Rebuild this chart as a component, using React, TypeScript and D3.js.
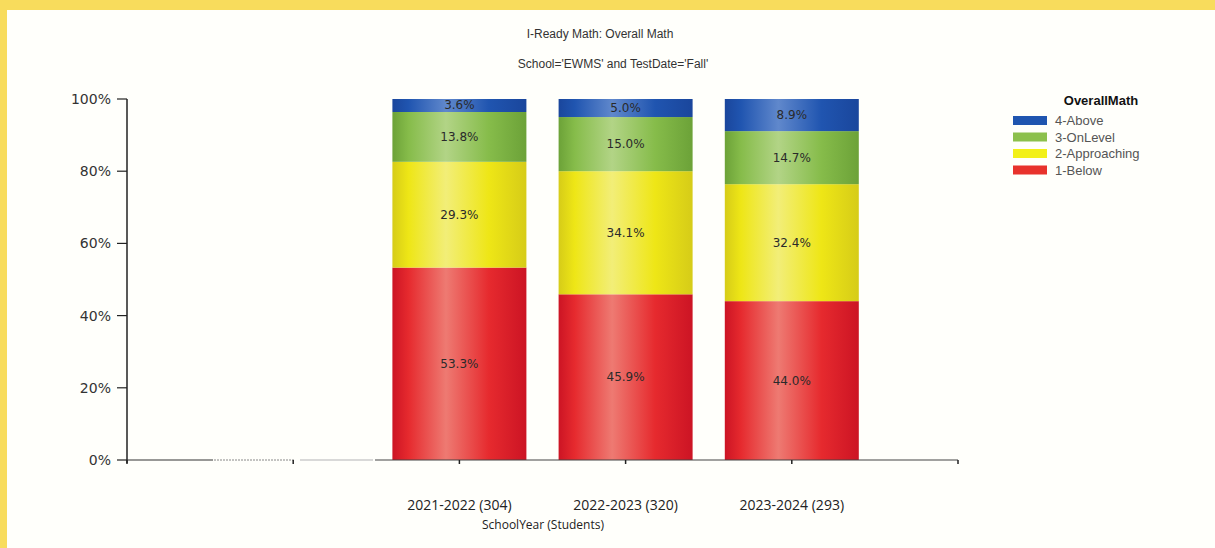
import React from "react";
import * as d3 from "d3";

const categories = ["", " ", "2021-2022 (304)", "2022-2023 (320)", "2023-2024 (293)", "  "];
const barCategories = ["2021-2022 (304)", "2022-2023 (320)", "2023-2024 (293)"];
const seriesNames = ["1-Below", "2-Approaching", "3-OnLevel", "4-Above"];
const below = [53.3, 45.9, 44.0];
const approaching = [29.3, 34.1, 32.4];
const onLevel = [13.8, 15.0, 14.7];
const above = [3.6, 5.0, 8.9];
const yTicks = [0, 20, 40, 60, 80, 100];
const legendOrder = ["4-Above", "3-OnLevel", "2-Approaching", "1-Below"];

const colors: Record<string, { base: string; edge: string; hi: string }> = {
  "1-Below": { base: "#e62a2e", edge: "#cc1424", hi: "#ee7a72" },
  "2-Approaching": { base: "#eee616", edge: "#d6cc18", hi: "#f2ee78" },
  "3-OnLevel": { base: "#86bc4a", edge: "#6ca238", hi: "#b2d486" },
  "4-Above": { base: "#2055b0", edge: "#1a469c", hi: "#6088cc" },
};
const swatch: Record<string, string> = {
  "1-Below": "#e8322c",
  "2-Approaching": "#f2f018",
  "3-OnLevel": "#8cc04c",
  "4-Above": "#1f55b0",
};

export default function App() {
  const W = 1215, H = 548;
  const x0 = 127, x1 = 958, yTop = 99, yBot = 460;
  const x = d3.scalePoint<string>().domain(categories).range([x0, x1]).padding(0);
  const y = d3.scaleLinear().domain([0, 100]).range([yBot, yTop]);
  const barW = 134;
  const data = barCategories.map((c, i) => ({
    cat: c,
    "1-Below": below[i],
    "2-Approaching": approaching[i],
    "3-OnLevel": onLevel[i],
    "4-Above": above[i],
  }));
  const stacked = d3.stack<any>().keys(seriesNames)(data);
  const font = "'Liberation Sans', Arial, sans-serif";

  return (
    <svg width={W} height={H} style={{ position: "fixed", left: 0, top: 0 }} fontFamily={font}>
      <defs>
        {seriesNames.map((s) => (
          <linearGradient key={s} id={"g" + s.replace(/\W/g, "")} x1="0" x2="1" y1="0" y2="0">
            <stop offset="0%" stopColor={colors[s].edge} />
            <stop offset="12%" stopColor={colors[s].base} />
            <stop offset="40%" stopColor={colors[s].hi} />
            <stop offset="72%" stopColor={colors[s].base} />
            <stop offset="100%" stopColor={colors[s].edge} />
          </linearGradient>
        ))}
      </defs>
      <rect x={0} y={0} width={W} height={H} fill="#f8dc5c" />
      <rect x={7} y={10} width={W - 7} height={H - 10} fill="#fffffb" />
      <text x={600} y={38} textAnchor="middle" fontSize={12} fill="#333">I-Ready Math: Overall Math</text>
      <text x={613} y={68} textAnchor="middle" fontSize={12} fill="#333">School='EWMS' and TestDate='Fall'</text>

      {/* bars */}
      {stacked.map((layer) =>
        layer.map((d, i) => {
          const cx = x(barCategories[i])!;
          const top = y(d[1]);
          const bot = y(d[0]);
          const v = d[1] - d[0];
          return (
            <g key={layer.key + i}>
              <rect x={cx - barW / 2} y={top} width={barW} height={bot - top} fill={`url(#g${String(layer.key).replace(/\W/g, "")})`} />
              <text x={cx} y={(top + bot) / 2 + 4} textAnchor="middle" fontSize={12} fill="#2a2a2a" fontFamily="'DejaVu Sans', sans-serif">{v.toFixed(1)}%</text>
            </g>
          );
        })
      )}

      {/* y axis */}
      <line x1={x0} x2={x0} y1={yTop} y2={yBot + 3} stroke="#222" strokeWidth={1.5} />
      {yTicks.map((t) => (
        <g key={t}>
          <line x1={x0 - 10} x2={x0} y1={y(t)} y2={y(t)} stroke="#222" strokeWidth={1.2} />
          <text x={x0 - 16} y={y(t) + 5} textAnchor="end" fontSize={14} fill="#333" fontFamily="'DejaVu Sans', sans-serif">{t}%</text>
        </g>
      ))}

      {/* x axis baseline */}
      <line x1={x0} x2={213} y1={yBot} y2={yBot} stroke="#333" strokeWidth={1.2} />
      <line x1={214} x2={295} y1={yBot} y2={yBot} stroke="#888" strokeWidth={1} strokeDasharray="2,1" />
      <line x1={300} x2={373} y1={yBot} y2={yBot} stroke="#ccc" strokeWidth={1.5} />
      <line x1={375} x2={x1} y1={yBot} y2={yBot} stroke="#444" strokeWidth={1.2} />
      {categories.map((c, i) => (
        <line key={i} x1={x(c)!} x2={x(c)!} y1={yBot} y2={yBot + 4} stroke="#222" strokeWidth={1.5} />
      ))}
      {barCategories.map((c) => (
        <text key={c} x={x(c)!} y={510} textAnchor="middle" fontSize={14} fill="#222" fontFamily="'Open Sans', sans-serif">{c}</text>
      ))}
      <text x={543} y={529} textAnchor="middle" fontSize={12} fill="#222" fontFamily="'Open Sans', sans-serif">SchoolYear (Students)</text>

      {/* legend */}
      <text x={1101} y={105} textAnchor="middle" fontSize={13} fontWeight="bold" fill="#111">OverallMath</text>
      {legendOrder.map((s, i) => (
        <g key={s}>
          <rect x={1013} y={116 + i * 16.5} width={34} height={9} fill={swatch[s]} />
          <text x={1055} y={125 + i * 16.5} fontSize={13} fill="#555">{s}</text>
        </g>
      ))}
    </svg>
  );
}
